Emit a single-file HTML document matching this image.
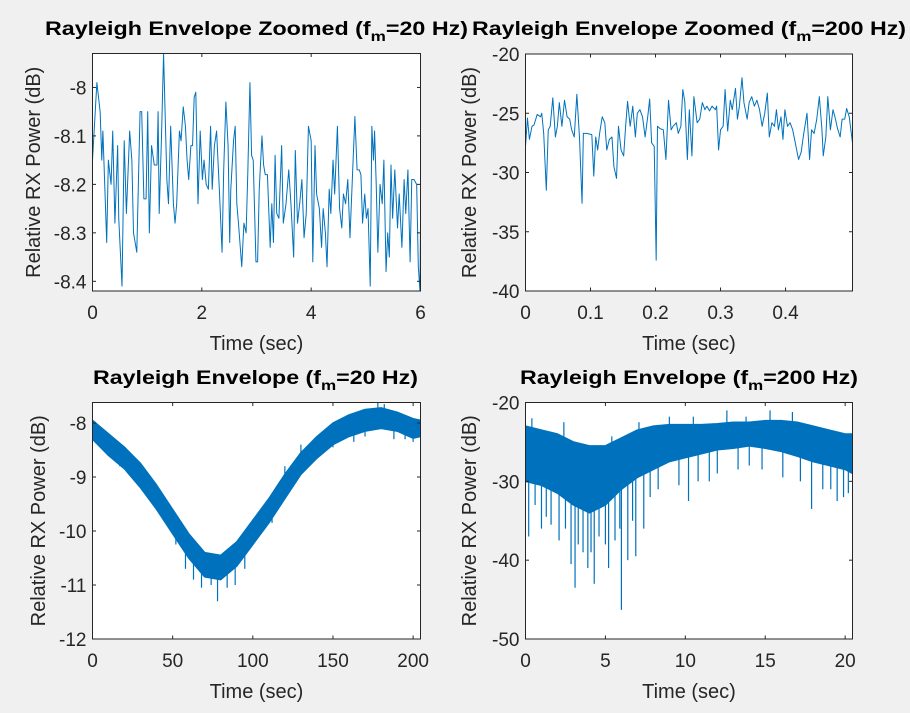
<!DOCTYPE html>
<html><head><meta charset="utf-8">
<style>
html,body{margin:0;padding:0;background:#f0f0f0;}
svg{display:block;font-family:"Liberation Sans",Arial,sans-serif;}
</style></head>
<body>
<svg id="fig" width="910" height="713" viewBox="0 0 910 713" xmlns="http://www.w3.org/2000/svg"></svg>
<script>
// ---------- Data ----------
const tlTime=[0,0.08,0.14,0.17,0.19,0.26,0.29,0.34,0.37,0.41,0.46,0.48,0.54,0.58,0.62,0.68,0.72,0.75,0.81,0.87,0.90,0.94,0.98,1.01,1.04,1.08,1.13,1.18,1.20,1.22,1.26,1.30,1.36,1.39,1.43,1.48,1.51,1.54,1.59,1.62,1.66,1.70,1.73,1.76,1.80,1.83,1.86,1.89,1.93,1.97,2.01,2.04,2.08,2.12,2.16,2.19,2.23,2.27,2.32,2.37,2.40,2.44,2.48,2.51,2.53,2.58,2.61,2.64,2.67,2.73,2.77,2.81,2.84,2.88,2.91,2.94,2.99,3.02,3.05,3.10,3.13,3.16,3.20,3.25,3.28,3.31,3.34,3.37,3.41,3.46,3.49,3.54,3.59,3.63,3.68,3.71,3.75,3.79,3.83,3.87,3.91,3.95,4.00,4.03,4.07,4.10,4.15,4.19,4.22,4.26,4.29,4.33,4.36,4.40,4.43,4.48,4.52,4.56,4.59,4.63,4.67,4.71,4.76,4.80,4.84,4.88,4.91,4.94,4.98,5.01,5.04,5.08,5.11,5.14,5.16,5.19,5.22,5.26,5.30,5.33,5.37,5.40,5.43,5.46,5.49,5.53,5.58,5.61,5.66,5.70,5.73,5.77,5.81,5.84,5.88,5.93,5.96,5.99,6.0];
const tlPower=[-8.15,-7.99,-8.05,-8.15,-8.09,-8.32,-8.15,-8.2,-8.09,-8.28,-8.12,-8.27,-8.41,-8.11,-8.26,-8.09,-8.15,-8.3,-8.34,-8.05,-8.05,-8.23,-8.23,-8.05,-8.3,-8.12,-8.16,-8.16,-8.05,-8.26,-8.11,-7.93,-8.19,-8.24,-8.08,-8.24,-8.28,-8.24,-8.09,-8.11,-8.04,-8.08,-8.15,-8.19,-8.12,-8.12,-8.02,-8.01,-8.24,-8.09,-8.19,-8.15,-8.2,-8.21,-8.08,-8.21,-8.12,-8.09,-8.21,-8.34,-8.17,-8.03,-8.12,-8.32,-8.21,-8.11,-8.08,-8.24,-8.28,-8.37,-8.28,-8.3,-8.18,-7.99,-8.14,-8.15,-8.36,-8.36,-8.21,-8.1,-8.16,-8.18,-8.18,-8.33,-8.24,-8.32,-8.14,-8.26,-8.27,-8.12,-8.28,-8.24,-8.17,-8.24,-8.35,-8.13,-8.28,-8.24,-8.19,-8.31,-8.26,-8.08,-8.11,-8.36,-8.12,-8.22,-8.25,-8.33,-8.25,-8.3,-8.37,-8.21,-8.26,-8.15,-8.22,-8.08,-8.25,-8.29,-8.22,-8.24,-8.19,-8.31,-8.17,-8.06,-8.17,-8.17,-8.18,-8.28,-8.22,-8.27,-8.25,-8.41,-8.08,-8.15,-8.09,-8.2,-8.34,-8.2,-8.24,-8.15,-8.38,-8.3,-8.35,-8.16,-8.27,-8.17,-8.29,-8.22,-8.33,-8.19,-8.26,-8.17,-8.36,-8.19,-8.19,-8.2,-8.37,-8.42,-8.28];

const trTime=[0,.003,.006,.010,.013,.018,.023,.025,.028,.032,.035,.038,.042,.046,.049,.052,.056,.060,.064,.068,.071,.075,.079,.083,.087,.089,.094,.102,.105,.108,.111,.114,.118,.122,.125,.129,.133,.136,.140,.143,.147,.151,.154,.157,.161,.165,.169,.172,.176,.180,.184,.188,.191,.194,.198,.201,.203,.207,.212,.216,.220,.224,.227,.232,.235,.239,.242,.245,.249,.252,.256,.259,.264,.268,.272,.276,.279,.283,.287,.292,.294,.297,.300,.304,.307,.311,.315,.318,.323,.326,.329,.333,.336,.341,.344,.348,.352,.356,.360,.364,.368,.372,.375,.379,.383,.386,.389,.393,.396,.399,.403,.407,.411,.415,.420,.424,.428,.433,.437,.440,.444,.448,.452,.456,.458,.462,.465,.469,.473,.476,.480,.484,.487,.491,.494,.498,.503];
const trPower=[-27.8,-25.4,-27.2,-26.1,-26,-25.1,-25.3,-25,-26.7,-31.5,-26.4,-26.1,-23.7,-27,-26.1,-24.1,-26.1,-23.9,-25.3,-25.5,-26.4,-27,-23.4,-27,-32.6,-26.7,-26.7,-26.8,-30.3,-27,-28.1,-26.7,-25.3,-25.8,-28.1,-27.2,-27,-29.5,-30.5,-26.1,-28.1,-28.6,-26.1,-24,-26.1,-24.4,-27,-25,-24.7,-25.3,-27,-25.3,-23.8,-27.5,-27.8,-37.4,-26.1,-26.3,-26.4,-28.9,-23.9,-26.4,-26.1,-25.8,-26.7,-26.1,-23,-24,-28.9,-24.7,-28.6,-23.6,-25.8,-25.5,-24.1,-24.7,-24.4,-24.8,-24.4,-24.7,-24.4,-28.1,-26.4,-26.1,-23,-26.5,-23.9,-24.7,-22.9,-25.5,-24.4,-22,-24.1,-25.5,-24.1,-23.6,-24.4,-23.9,-24.7,-26.1,-25,-23.3,-27,-25.8,-26.1,-24.7,-26.4,-25.3,-27.2,-24.7,-26.1,-25.8,-26.4,-27.5,-28.9,-28.3,-26.7,-25,-28.9,-26.4,-26.7,-25.5,-23.6,-26.4,-28.6,-27,-23.6,-26.4,-24.7,-25.3,-26.3,-27,-25.5,-25.5,-24.6,-25.3,-27.5];

const blTime=[0,10,20,30,40,50,60,70,80,90,100,110,120,130,140,150,160,170,180,190,200,204.6];
const blUpper=[-7.95,-8.2,-8.45,-8.75,-9.15,-9.6,-10.05,-10.4,-10.45,-10.2,-9.8,-9.4,-8.95,-8.55,-8.25,-8.0,-7.85,-7.75,-7.72,-7.8,-7.92,-7.95];
const blLower=[-8.3,-8.6,-8.85,-9.2,-9.6,-10.05,-10.5,-10.85,-10.9,-10.65,-10.25,-9.85,-9.4,-8.95,-8.65,-8.4,-8.25,-8.15,-8.1,-8.15,-8.28,-8.25];
const blSpikeTime=[78,63,89,42,52,68,84,74,17,130,120,178,182,163,195,5,25,35,58,95,105,112,140,150,170,188,200];
const blSpikeVal=[-11.3,-10.9,-11.0,-9.7,-10.25,-11.05,-11.05,-11.0,-8.8,-8.4,-8.8,-7.62,-7.65,-8.35,-8.3,-8.45,-8.9,-9.3,-10.7,-10.7,-9.65,-9.85,-8.5,-8.45,-8.25,-8.3,-8.35];

const brTime=[0,1,2,3,4,5,6,7,8,9,10,11,12,13,14,15,16,17,18,19,20,20.46];
const brUpper=[-23,-23.5,-24,-25,-25.5,-25.5,-24.5,-23.5,-23,-22.8,-22.8,-22.8,-22.7,-22.5,-22.5,-22.3,-22.3,-22.5,-23,-23.5,-24,-24];
const brLower=[-30,-30.5,-31.5,-33,-34,-33,-31,-29.5,-28.5,-27.5,-27,-26.5,-26,-25.8,-25.5,-25.8,-26.2,-26.8,-27.5,-28,-28.5,-29];
const brSpikeTime=[0.2,1.0,1.6,2.1,2.85,3.1,3.6,3.9,4.3,4.6,5.2,5.6,6.0,6.4,6.9,7.4,10.2,17.9,19.5,0.4,12.6,15.3,16.7,9.0,8.3,11.5,14.0,18.6,0.6,1.3,2.5,3.3,4.1,5.0,5.9,6.7,7.8,9.6,10.8,12.0,13.3,14.8,16.1,17.2,19.1,19.9,20.2,2.4,5.4,7.1,10.5,13.8];
const brSpikeVal=[-37,-36,-35.5,-37.5,-40.5,-43.5,-39,-41,-43,-37,-41,-37.5,-46.3,-40,-39.5,-36,-32.5,-33.5,-32.5,-22,-21,-21,-21.2,-21.8,-31,-30,-28,-31,-33,-34.5,-36,-38,-39,-38,-36,-35,-32,-30.5,-30,-29,-28.5,-28.5,-29.5,-30,-31,-32,-31.5,-22.5,-24.3,-22.5,-21.8,-21.8];

const tlXTicks=[0,2,4,6], tlYTicks=[-8.4,-8.3,-8.2,-8.1,-8];
const trXTicks=[0,0.1,0.2,0.3,0.4], trYTicks=[-40,-35,-30,-25,-20];
const blXTicks=[0,50,100,150,200], blYTicks=[-12,-11,-10,-9,-8];
const brXTicks=[0,5,10,15,20], brYTicks=[-50,-40,-30,-20];

// ---------- Drawing ----------
const NS="http://www.w3.org/2000/svg";
const svg=document.getElementById('fig');
const BLUE="#0072BD", INK="#262626";
function mk(tag,attrs,parent){const e=document.createElementNS(NS,tag);for(const k in attrs)e.setAttribute(k,attrs[k]);(parent||svg).appendChild(e);return e;}

function axes(cfg){
  const g=mk('g',{});
  
  
  const {x0,x1,y0,y1,xmin,xmax,ymin,ymax}=cfg;
  const sx=v=>x0+(v-xmin)/(xmax-xmin)*(x1-x0);
  const sy=v=>y1-(v-ymin)/(ymax-ymin)*(y1-y0);
  const bg=mk('rect',{x:x0,y:y0,width:x1-x0,height:y1-y0,fill:'#fff'},g);
  
  
  const clipId='c'+cfg.name;
  const cp=mk('clipPath',{id:clipId},g);mk('rect',{x:x0,y:y0,width:x1-x0,height:y1-y0},cp);
  const data=mk('g',{'clip-path':'url(#'+clipId+')'},g);
  cfg.draw(data,sx,sy);
  const frame=mk('rect',{x:x0,y:y0,width:x1-x0,height:y1-y0,fill:'none',stroke:INK,'stroke-width':1},g);
  
  
  cfg.xt.forEach(v=>{const x=sx(v);
    mk('line',{x1:x,x2:x,y1:y1,y2:y1-3.5,stroke:INK},g);mk('line',{x1:x,x2:x,y1:y0,y2:y0+3.5,stroke:INK},g);
    const t=mk('text',{x:x,y:y1+28,'text-anchor':'middle','font-size':19,fill:INK},g);
    
    
    t.textContent=String(v);});
  cfg.yt.forEach(v=>{const y=sy(v);
    mk('line',{x1:x0,x2:x0+3.5,y1:y,y2:y,stroke:INK},g);mk('line',{x1:x1,x2:x1-3.5,y1:y,y2:y,stroke:INK},g);
    const t=mk('text',{x:x0-6,y:y+7,'text-anchor':'end','font-size':19,fill:INK},g);
    
    
    t.textContent=String(v);});
  const xl=mk('text',{x:(x0+x1)/2,y:y1+59,'text-anchor':'middle','font-size':20,fill:INK},g);
  
  
  xl.textContent='Time (sec)';
  const yl=mk('text',{x:0,y:0,'text-anchor':'middle','font-size':20,fill:INK,transform:`translate(${cfg.ylx},${(y0+y1)/2}) rotate(-90)`},g);
  
  
  yl.textContent='Relative RX Power (dB)';
  const tt=mk('text',{x:(cfg.tx0+cfg.tx1)/2,y:cfg.ty,'text-anchor':'middle','font-size':19,'font-weight':'bold',fill:'#000',textLength:cfg.tx1-cfg.tx0,lengthAdjust:'spacingAndGlyphs'},g);
  
  
  tt.appendChild(document.createTextNode(cfg.title[0]+' (f'));
  const sub=mk('tspan',{'font-size':14,dy:6},tt);sub.textContent='m';
  const rest=mk('tspan',{dy:-6},tt);rest.textContent='='+cfg.title[1]+')';
}

function lineSeries(g,sx,sy,xs,ys,name){
  const p=mk('polyline',{points:xs.map((t,i)=>sx(t)+','+sy(ys[i])).join(' '),fill:'none',stroke:BLUE,'stroke-width':1,'stroke-linejoin':'round'},g);
  
  
}
function bandSeries(g,sx,sy,xs,up,lo,sxT,syV,name){
  const pts=xs.map((t,i)=>sx(t)+','+sy(up[i])).concat(xs.map((t,i)=>sx(t)+','+sy(lo[i])).reverse());
  const p=mk('polygon',{points:pts.join(' '),fill:BLUE,stroke:BLUE,'stroke-width':1.5,'stroke-linejoin':'round'},g);
  
  
  sxT.forEach((t,i)=>{
    let k=0;while(k<xs.length-2&&xs[k+1]<t)k++;
    const f=(t-xs[k])/(xs[k+1]-xs[k]);
    const mid=((up[k]+(up[k+1]-up[k])*f)+(lo[k]+(lo[k+1]-lo[k])*f))/2;
    const s=mk('line',{x1:sx(t),x2:sx(t),y1:sy(mid),y2:sy(syV[i]),stroke:BLUE,'stroke-width':1.2},g);
    
    
  });
}

axes({name:'zoomed-20hz',x0:92.5,x1:420.5,y0:53.5,y1:291,xmin:0,xmax:6,ymin:-8.42,ymax:-7.93,xt:tlXTicks,yt:tlYTicks,ylx:40,tx0:45,tx1:468,ty:35,title:['Rayleigh Envelope Zoomed','20 Hz'],
  draw:(g,sx,sy)=>lineSeries(g,sx,sy,tlTime,tlPower,'series-zoomed-20hz')});
axes({name:'zoomed-200hz',x0:525.5,x1:852.5,y0:54,y1:291,xmin:0,xmax:0.503,ymin:-40,ymax:-20,xt:trXTicks,yt:trYTicks,ylx:476,tx0:472,tx1:906,ty:35,title:['Rayleigh Envelope Zoomed','200 Hz'],
  draw:(g,sx,sy)=>lineSeries(g,sx,sy,trTime,trPower,'series-zoomed-200hz')});
axes({name:'envelope-20hz',x0:92.5,x1:420.5,y0:402.5,y1:639,xmin:0,xmax:204.6,ymin:-12,ymax:-7.62,xt:blXTicks,yt:blYTicks,ylx:45,tx0:93,tx1:418,ty:384,title:['Rayleigh Envelope','20 Hz'],
  draw:(g,sx,sy)=>bandSeries(g,sx,sy,blTime,blUpper,blLower,blSpikeTime,blSpikeVal,'series-envelope-20hz')});
axes({name:'envelope-200hz',x0:525.5,x1:852.5,y0:402.5,y1:639,xmin:0,xmax:20.46,ymin:-50,ymax:-20,xt:brXTicks,yt:brYTicks,ylx:476,tx0:520,tx1:858,ty:384,title:['Rayleigh Envelope','200 Hz'],
  draw:(g,sx,sy)=>bandSeries(g,sx,sy,brTime,brUpper,brLower,brSpikeTime,brSpikeVal,'series-envelope-200hz')});
</script>
</body></html>
